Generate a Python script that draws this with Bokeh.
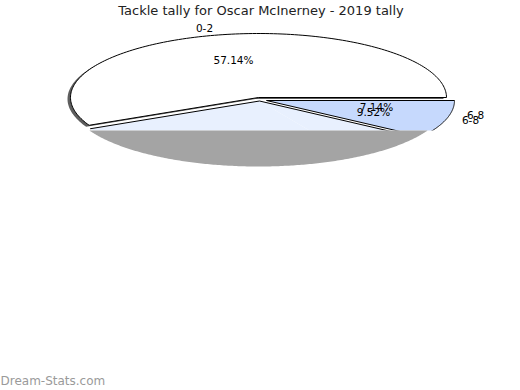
import numpy as np
from bokeh.plotting import figure
from bokeh.models import Range1d, ColumnDataSource
from bokeh.core.properties import value
from bokeh.embed import file_html
from bokeh.resources import INLINE

# ---------------- data ----------------
title_text = "Tackle tally for Oscar McInerney - 2019 tally"
categories = ["0-2", "3-5", "6-8", "6-8"]
percents = [57.14, 26.19, 7.14, 9.52]
pct_labels = ["57.14%", "", "7.14%", "9.52%"]
cat_labels = ["0-2", "", "6-8", "6-8"]
footer_text = "Dream-Stats.com"

# ---------------- style / layout ----------------
slice_colors = ["#ffffff", "#e8f0fe", "#e8f0fe", "#c6d9fd"]
W, H = 520, 390
RX, RY = 188, 64
centers = [(258, 97), (259, 100.5), (259, 100.5), (266, 100)]
pct_pos = [(233, 59), None, (376, 106.5), (373, 111)]
cat_pos = [(204, 27), None, (475, 114), (470, 119)]
DEPTH_CENTER = (258, 102)
DEPTH_TOP = 130
FONT = value("DejaVu Sans")

p = figure(width=W, height=H, x_range=Range1d(0, W), y_range=Range1d(H, 0),
           output_backend="svg", toolbar_location=None, min_border=0)
p.axis.visible = False
p.grid.visible = False
p.outline_line_color = None
p.background_fill_color = "white"
p.border_fill_color = "white"

total = float(sum(percents))
bounds = np.concatenate([[0.0], np.cumsum(percents)]) / total * 360.0


def arc_pt(cx, cy, a):
    t = np.radians(a)
    return cx + RX * np.cos(t), cy - RY * np.sin(t)


def sector(cx, cy, a0, a1, dx=0.0, dy=0.0, n=160):
    t = np.radians(np.linspace(a0, a1, n))
    xs = np.concatenate([[cx], cx + RX * np.cos(t), [cx]]) + dx
    ys = np.concatenate([[cy], cy - RY * np.sin(t), [cy]]) + dy
    return xs, ys


# shadow / side of the big slice
sx, sy = sector(*centers[0], bounds[0], bounds[1], dx=-3, dy=1.5)
p.patch(sx, sy, fill_color="#5e5e5e", line_color=None)

# slices
for i in range(len(percents)):
    xs, ys = sector(*centers[i], bounds[i], bounds[i + 1])
    if i in (0, 3):
        p.patch(xs, ys, fill_color=slice_colors[i], line_color="black", line_width=1)
    else:
        p.patch(xs, ys, fill_color=slice_colors[i], line_color=None)

# visible radial edges of the light slices
cx1, cy1 = centers[1]
ex, ey = arc_pt(cx1, cy1, bounds[1])
p.line([cx1, ex], [cy1, ey], line_color="black", line_width=1)
cx2, cy2 = centers[2]
ex, ey = arc_pt(cx2, cy2, bounds[3])
p.line([cx2, ex], [cy2, ey], line_color="black", line_width=1)

# everything below the depth line is cut away
p.quad(left=[0], right=[W], top=[DEPTH_TOP], bottom=[H], fill_color="white", line_color=None)

# grey depth of the pie
a = np.degrees(np.arcsin((DEPTH_TOP - DEPTH_CENTER[1]) / RY))
t = np.radians(np.linspace(180 + a, 360 - a, 200))
gx = DEPTH_CENTER[0] + RX * np.cos(t)
gy = DEPTH_CENTER[1] - RY * np.sin(t)
p.patch(gx, gy, fill_color="#a4a4a4", line_color=None)

# labels
lx, ly, lt = [], [], []
for i in range(len(percents)):
    if pct_pos[i] is not None:
        lx.append(pct_pos[i][0]); ly.append(pct_pos[i][1]); lt.append(pct_labels[i])
    if cat_pos[i] is not None:
        lx.append(cat_pos[i][0]); ly.append(cat_pos[i][1]); lt.append(cat_labels[i])
p.text(x="x", y="y", text="t", source=ColumnDataSource(dict(x=lx, y=ly, t=lt)),
       text_align="center", text_baseline="middle", text_font=FONT,
       text_font_size=value("10.5px"), text_color="black")

# title
p.text(x=[260.5], y=[10], text=[title_text], text_align="center", text_baseline="middle",
       text_font=FONT, text_font_size=value("13px"), text_color="#222222")

# footer
p.text(x=[0], y=[380], text=[footer_text], text_align="left", text_baseline="middle",
       text_font=FONT, text_font_size=value("12px"), text_color="#9a9a9a")

open("out.html", "w").write(file_html(p, INLINE))
